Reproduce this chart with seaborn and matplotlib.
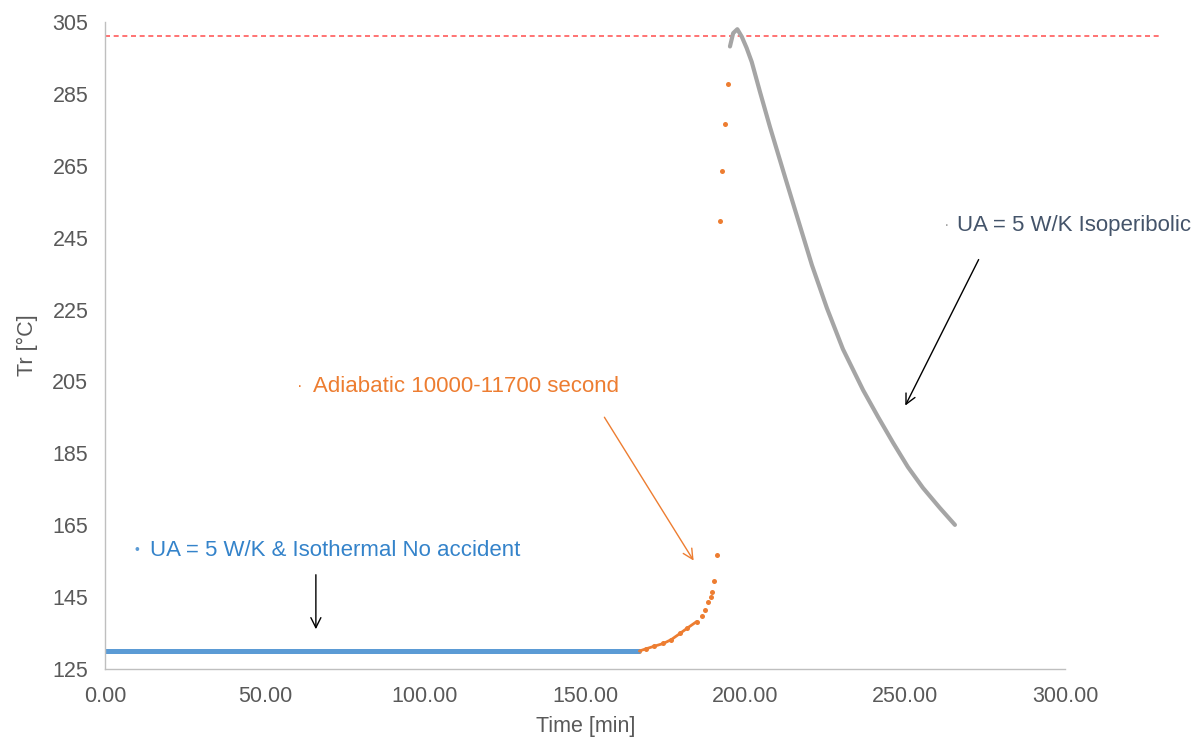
import numpy as np
import pandas as pd
import seaborn as sns
import matplotlib.pyplot as plt

# -------------------------
# Configuration
# -------------------------
sns.set_theme(style="white")
plt.rcParams['font.family'] = ['Liberation Sans', 'DejaVu Sans']

# -------------------------
# Data
# -------------------------
# Isothermal, no accident
iso_time = [0.0, 166.7]
iso_temp = [130.0, 130.0]

# Adiabatic 10000-11700 s
adi_time = [167.0, 169.0, 171.5, 174.5, 177.0, 179.7, 182.0, 184.9,
            186.5, 187.5, 188.5, 189.3, 189.8, 190.3, 191.4,
            192.2, 192.9, 193.6, 194.8]
adi_temp = [130.0, 130.6, 131.3, 132.1, 133.2, 134.9, 136.4, 138.2,
            139.8, 141.4, 143.7, 145.0, 146.3, 149.5, 156.7,
            249.6, 263.5, 276.6, 287.8]

# Isoperibolic
isop_time = [195.3, 196.3, 197.6, 199.0, 200.5, 202.1, 204.7, 207.8,
             212.5, 216.3, 220.9, 225.6, 230.6, 236.9, 241.6, 246.3,
             250.9, 255.6, 260.9, 265.6]
isop_temp = [298.2, 301.9, 303.0, 300.9, 297.8, 293.9, 285.5, 275.8,
             261.9, 250.8, 237.4, 225.4, 214.0, 202.6, 195.1, 187.9,
             181.2, 175.4, 169.8, 165.1]

# Limit line
limit_time = [0.0, 330.0]
limit_temp = [301.0, 301.0]

# Axis ticks
xticks = [0, 50, 100, 150, 200, 250, 300]
yticks = [125, 145, 165, 185, 205, 225, 245, 265, 285, 305]

# Colours
c_blue = '#5B9BD5'
c_orange = '#ED7D31'
c_gray = '#A5A5A5'
c_text = '#595959'

# -------------------------
# DataFrames
# -------------------------
iso = pd.DataFrame({'time': iso_time, 'temp': iso_temp})
adi = pd.DataFrame({'time': adi_time, 'temp': adi_temp})
isop = pd.DataFrame({'time': isop_time, 'temp': isop_temp})
limit = pd.DataFrame({'time': limit_time, 'temp': limit_temp})

# -------------------------
# Plot
# -------------------------
fig = plt.figure(figsize=(12.04, 7.44), dpi=100)
ax = fig.add_axes([0.0872, 0.1008, 0.8771, 0.8696])

sns.lineplot(data=limit, x='time', y='temp', ax=ax, color='#FF5B5B',
             linewidth=1.2, dashes=False, linestyle=(0, (3, 2.2)))
sns.lineplot(data=iso, x='time', y='temp', ax=ax, color=c_blue,
             linewidth=3.6)
sns.lineplot(data=adi[adi.time <= 184.9], x='time', y='temp', ax=ax,
             color=c_orange, linewidth=2.0)
sns.scatterplot(data=adi, x='time', y='temp', ax=ax, color=c_orange,
                s=13, linewidth=0)
sns.lineplot(data=isop, x='time', y='temp', ax=ax, color=c_gray,
             linewidth=3.0, solid_joinstyle='round', solid_capstyle='round')

# Labels with their small keys
ax.text(10.0, 158.1, '•', color=c_blue, fontsize=10, va='center', ha='center')
ax.text(14.1, 158.1, 'UA = 5 W/K & Isothermal No accident', color='#3483CA',
        fontsize=16, va='center', ha='left')
ax.text(61.0, 203.5, '·', color=c_orange, fontsize=12, va='center', ha='center')
ax.text(65.0, 203.5, 'Adiabatic 10000-11700 second', color=c_orange,
        fontsize=16, va='center', ha='left')
ax.text(263.1, 248.5, '·', color=c_gray, fontsize=12, va='center', ha='center')
ax.text(266.3, 248.5, 'UA = 5 W/K Isoperibolic', color='#44546A',
        fontsize=16, va='center', ha='left')

# Arrows
ax.annotate('', xy=(65.9, 135.3), xytext=(65.9, 152.0),
            arrowprops=dict(arrowstyle='->', color='black', lw=1.0,
                            mutation_scale=18))
ax.annotate('', xy=(184.4, 154.5), xytext=(155.6, 195.7),
            arrowprops=dict(arrowstyle='->', color=c_orange, lw=1.0,
                            mutation_scale=18))
ax.annotate('', xy=(249.7, 197.6), xytext=(273.4, 239.6),
            arrowprops=dict(arrowstyle='->', color='black', lw=1.0,
                            mutation_scale=18))

# Configure axes
ax.set_xlim(0, 330)
ax.set_ylim(125, 305)
ax.set_xticks(xticks)
ax.set_xticklabels(['%.2f' % v for v in xticks])
ax.set_yticks(yticks)
ax.tick_params(axis='both', length=0, labelsize=15.5, labelcolor=c_text)
ax.tick_params(axis='x', pad=12)
ax.tick_params(axis='y', pad=12)

sns.despine(ax=ax, top=True, right=True)
ax.spines['bottom'].set_bounds(0, 300)
for side in ['left', 'bottom']:
    ax.spines[side].set_color('#BFBFBF')
    ax.spines[side].set_linewidth(1.0)

ax.set_xlabel('Time [min]', fontsize=15.5, color=c_text)
ax.set_ylabel('Tr [°C]', fontsize=15.5, color=c_text)
ax.xaxis.set_label_coords(0.4555, -0.073)
ax.yaxis.set_label_coords(-0.063, 0.50)

fig.savefig('out.png', dpi=100)
